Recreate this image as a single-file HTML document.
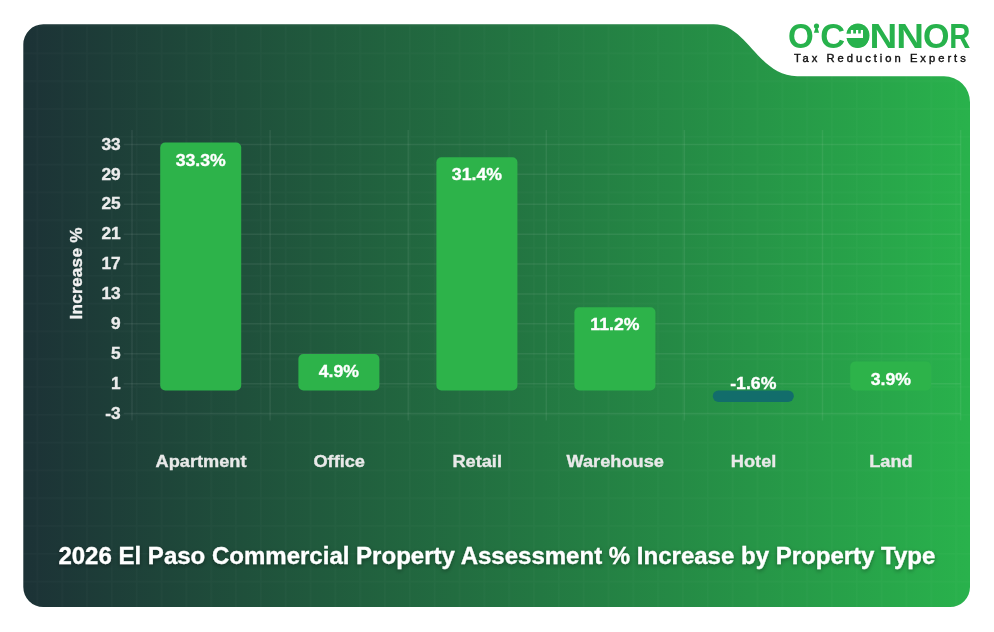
<!DOCTYPE html>
<html lang="en"><head><meta charset="utf-8"><title>2026 El Paso Commercial Property Assessment</title>
<style>
html,body{margin:0;padding:0;background:#fff;}
body{width:994px;height:632px;overflow:hidden;position:relative;font-family:"Liberation Sans",sans-serif;}
svg{position:absolute;left:0;top:0;display:block}
text{font-family:"Liberation Sans",sans-serif;font-weight:bold}
.tick{font-size:16.5px;fill:#ececec;text-anchor:end;stroke:#ececec;stroke-width:0.35px}
.cat{font-size:17.1px;fill:#e9e9e9;text-anchor:middle;stroke:#e9e9e9;stroke-width:0.35px}
.val{font-size:17px;fill:#ffffff;text-anchor:middle;stroke:#fff;stroke-width:0.35px}
.title{font-size:24.03px;fill:#ffffff;text-anchor:middle;stroke:#fff;stroke-width:0.3px}
.ylab{font-size:17.2px;fill:#f2f2f2;text-anchor:middle;letter-spacing:0.25px;stroke:#f2f2f2;stroke-width:0.35px}
.logo{font-size:32px;fill:#27b24c}
.tag{font-size:11.2px;fill:#111;font-weight:normal;letter-spacing:3.0px;stroke:#111;stroke-width:0.4px}
</style></head><body>
<svg width="994" height="632" viewBox="0 0 994 632">
<defs>
<linearGradient id="bg" x1="23.3" y1="0" x2="970" y2="0" gradientUnits="userSpaceOnUse">
<stop offset="0" stop-color="#1c3236"/><stop offset="1" stop-color="#29b24c"/>
</linearGradient>
<pattern id="grid" x="11.72" y="24.75" width="24.83" height="27.8" patternUnits="userSpaceOnUse">
<path d="M0.75 0V27.8M0 0.75H24.83" stroke="#ffffff" stroke-opacity="0.021" stroke-width="1.5" fill="none"/>
</pattern>
<clipPath id="cardclip"><path id="cardp" d="M43.3 24.3H713.8C746.9 24.3 758.5 76.2 797.1 76.2H944A26 26 0 0 1 970 102.2V587A20 20 0 0 1 950 607H43.3A20 20 0 0 1 23.3 587V44.3A20 20 0 0 1 43.3 24.3Z"/></clipPath>
<filter id="ts" x="-5%" y="-30%" width="110%" height="170%"><feDropShadow dx="0" dy="1.6" stdDeviation="2" flood-color="#000" flood-opacity="0.38"/></filter>
</defs>
<use href="#cardp" fill="url(#bg)"/>
<rect x="0" y="0" width="994" height="632" fill="url(#grid)" clip-path="url(#cardclip)"/>
<g stroke="#ffffff" stroke-opacity="0.07" stroke-width="1.5" fill="none">
<path d="M123.7 144.45H960.6"/>
<path d="M123.7 174.35H960.6"/>
<path d="M123.7 204.25H960.6"/>
<path d="M123.7 234.15H960.6"/>
<path d="M123.7 264.05H960.6"/>
<path d="M123.7 293.95H960.6"/>
<path d="M123.7 323.85H960.6"/>
<path d="M123.7 353.75H960.6"/>
<path d="M123.7 383.65H960.6"/>
<path d="M123.7 413.55H960.6"/>
<path d="M132.00 130V420.5"/>
<path d="M270.10 130V420.5"/>
<path d="M408.20 130V420.5"/>
<path d="M546.30 130V420.5"/>
<path d="M684.40 130V420.5"/>
<path d="M822.50 130V420.5"/>
<path d="M960.60 130V420.5"/>
</g>
<rect x="160.2" y="142.5" width="81.0" height="247.9" rx="5" fill="#2db34a"/>
<rect x="298.4" y="354.1" width="81.0" height="36.3" rx="5" fill="#2db34a"/>
<rect x="436.4" y="157.2" width="81.0" height="233.2" rx="5" fill="#2db34a"/>
<rect x="574.4" y="307.2" width="81.0" height="83.2" rx="5" fill="#2db34a"/>
<rect x="712.8" y="390.4" width="81.0" height="11.5" rx="5.7" fill="#126d6b"/>
<rect x="850.2" y="361.5" width="81.0" height="28.9" rx="5" fill="#2db34a"/>
<text class="tick" transform="translate(120.7 149.6) scale(1.05 1)">33</text>
<text class="tick" transform="translate(120.7 179.5) scale(1.05 1)">29</text>
<text class="tick" transform="translate(120.7 209.4) scale(1.05 1)">25</text>
<text class="tick" transform="translate(120.7 239.3) scale(1.05 1)">21</text>
<text class="tick" transform="translate(120.7 269.2) scale(1.05 1)">17</text>
<text class="tick" transform="translate(120.7 299.1) scale(1.05 1)">13</text>
<text class="tick" transform="translate(120.7 329.0) scale(1.05 1)">9</text>
<text class="tick" transform="translate(120.7 358.9) scale(1.05 1)">5</text>
<text class="tick" transform="translate(120.7 388.8) scale(1.05 1)">1</text>
<text class="tick" transform="translate(120.7 418.7) scale(1.05 1)">-3</text>
<text class="val" transform="translate(200.7 165.5) scale(1.04 1)">33.3%</text>
<text class="val" transform="translate(338.9 377.1) scale(1.04 1)">4.9%</text>
<text class="val" transform="translate(476.9 180.2) scale(1.04 1)">31.4%</text>
<text class="val" transform="translate(614.9 330.2) scale(1.04 1)">11.2%</text>
<text class="val" transform="translate(753.3 389.1) scale(1.04 1)">-1.6%</text>
<text class="val" transform="translate(890.8 384.5) scale(1.04 1)">3.9%</text>
<text class="cat" transform="translate(201.0 467.2) scale(1.065 1)">Apartment</text>
<text class="cat" transform="translate(339.2 467.2) scale(1.065 1)">Office</text>
<text class="cat" transform="translate(477.2 467.2) scale(1.065 1)">Retail</text>
<text class="cat" transform="translate(615.2 467.2) scale(1.065 1)">Warehouse</text>
<text class="cat" transform="translate(753.6 467.2) scale(1.065 1)">Hotel</text>
<text class="cat" transform="translate(891.0 467.2) scale(1.065 1)">Land</text>
<text class="ylab" transform="translate(81.6 273.4) rotate(-90)">Increase %</text>
<text class="title" x="496.9" y="564.1" filter="url(#ts)">2026 El Paso Commercial Property Assessment % Increase by Property Type</text>
<text class="logo" transform="translate(0 47.5) scale(1 1.077)" y="0"><tspan x="787.94" textLength="25.75" lengthAdjust="spacingAndGlyphs">O</tspan><tspan x="812.70" textLength="7.61" lengthAdjust="spacingAndGlyphs">'</tspan><tspan x="820.29" textLength="24.85" lengthAdjust="spacingAndGlyphs">C</tspan><tspan x="845.49" textLength="24.85" lengthAdjust="spacingAndGlyphs">O</tspan><tspan x="869.63" textLength="27.76" lengthAdjust="spacingAndGlyphs">N</tspan><tspan x="896.18" textLength="27.76" lengthAdjust="spacingAndGlyphs">N</tspan><tspan x="923.00" textLength="26.53" lengthAdjust="spacingAndGlyphs">O</tspan><tspan x="949.24" textLength="21.16" lengthAdjust="spacingAndGlyphs">R</tspan></text>
<g fill="#27b24c"><rect x="812.5" y="22" width="8" height="12" fill="#fff"/><circle cx="816.5" cy="26.1" r="2.6"/><path d="M815.6 27.5H817.4L819.1 32.8H813.9Z"/></g>
<g><ellipse cx="857.9" cy="35.6" rx="11.6" ry="12.05" fill="#27b24c"/><path fill="#fff" d="M845.5 33.7H850.9V30.1H853.2V33.6H856V30.1H858.2V33.6H860.8V30.1H863V38H845.5Z"/></g>
<text class="tag" x="793.9" y="61.8">Tax Reduction Experts</text>
</svg>
</body></html>
